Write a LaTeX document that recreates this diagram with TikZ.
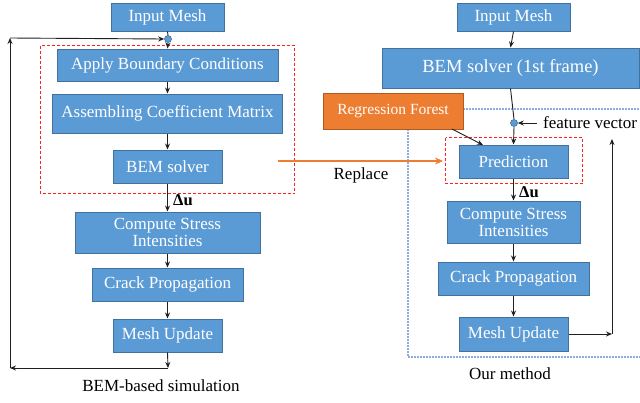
\documentclass[tikz,border=0pt]{standalone}
\usepackage{fontspec}
\setmainfont{Liberation Serif}
\usetikzlibrary{arrows.meta}
\definecolor{boxblue}{HTML}{5B9BD5}
\definecolor{boxedge}{HTML}{41719C}
\definecolor{rforange}{HTML}{ED7D31}
\definecolor{rfedge}{HTML}{AE5A21}
\definecolor{dotblue}{HTML}{8FAADC}
\definecolor{lineblk}{HTML}{202020}
\definecolor{dashred}{HTML}{FF2020}
\tikzset{
  box/.style={draw=boxedge, line width=1pt, fill=boxblue, text=white, inner sep=0pt,
    align=center, font=\fontsize{17}{18}\selectfont},
  obox/.style={draw=rfedge, line width=1pt, fill=rforange, text=white, inner sep=0pt,
    align=center, font=\fontsize{15.5}{17}\selectfont},
  conn/.style={draw=lineblk, line width=0.9pt, -{Stealth[length=6pt,width=5pt]}},
  plain/.style={draw=lineblk, line width=0.9pt},
  bdot/.style={circle, fill=boxblue, draw=boxedge, line width=0.6pt, minimum size=7pt, inner sep=0pt},
  redbox/.style={draw=dashred, line width=1pt, dash pattern=on 3pt off 2pt},
  bluebox/.style={draw=dotblue, line width=1.5pt, dash pattern=on 1.5pt off 1.5pt},
  lbl/.style={text=black, inner sep=0pt, font=\fontsize{17}{18}\selectfont},
  dlbl/.style={text=black, inner sep=0pt, font=\bfseries\fontsize{16.5}{18}\selectfont},
}
\begin{document}
\begin{tikzpicture}[x=1pt,y=-1pt]
\useasboundingbox (0,0) rectangle (640,402);
\fill[white] (0,0) rectangle (640,402);
% ---------- left column ----------
\draw[redbox] (40.5,45.5) rectangle (294.5,193.5);
\node[box, minimum width=113pt, minimum height=28pt] (inL) at (167.5,17) {Input Mesh};
\node[bdot] (dotL) at (168,39) {};
\node[box, minimum width=221pt, minimum height=32pt] (abc) at (167.5,65) {Apply Boundary Conditions};
\node[box, minimum width=230pt, minimum height=39pt] (acm) at (167.5,113.5) {Assembling Coefficient Matrix};
\node[box, minimum width=109pt, minimum height=33pt] (bemL) at (167.5,166.5) {BEM solver};
\node[box, minimum width=185pt, minimum height=41pt] (csiL) at (167.5,232.5) {Compute Stress\\[-1pt]Intensities};
\node[box, minimum width=151pt, minimum height=33pt] (cpL) at (167.5,284.5) {Crack Propagation};
\node[box, minimum width=109pt, minimum height=33pt] (muL) at (167.5,335.5) {Mesh Update};
\coordinate (lb) at (168,368);
\coordinate (lc) at (10,368);
\coordinate (lt) at (10,38);
\draw[plain] (inL.south) -- (dotL.north);
\draw[conn] (dotL.south) -- (abc.north);
\draw[conn] (abc.south) -- (acm.north);
\draw[conn] (acm.south) -- (bemL.north);
\draw[conn] (bemL.south) -- (csiL.north);
\draw[conn] (csiL.south) -- (cpL.north);
\draw[conn] (cpL.south) -- (muL.north);
\draw[conn] (muL.south) -- (lb);
\draw[conn] (lb) -- (lc);
\draw[conn] (lc) -- (lt);
\draw[conn] (lt) -- (dotL.west);
\node[dlbl, anchor=west] (duL) at (173,200) {Δu};
\node[lbl] (capL) at (161,386) {BEM-based simulation};
% ---------- right column ----------
\draw[bluebox] (463,109) -- (640,109);
\draw[bluebox] (408,129) -- (408,357) -- (640,357);
\draw[redbox] (445.5,137.5) rectangle (582.5,183.5);
\node[box, minimum width=113pt, minimum height=28pt] (inR) at (513.5,17) {Input Mesh};
\node[box, minimum width=257pt, minimum height=40pt, font=\fontsize{18.5}{20}\selectfont] (bemR) at (510.5,68) {BEM solver (1st frame)};
\node[obox, minimum width=140pt, minimum height=36pt] (rf) at (393,111) {Regression Forest};
\node[bdot] (dotR) at (514,123) {};
\node[lbl, anchor=west] (fv) at (543,123) {feature vector};
\node[box, minimum width=109pt, minimum height=33pt] (pred) at (513.5,161.5) {Prediction};
\node[box, minimum width=133pt, minimum height=42pt] (csiR) at (513.5,222) {Compute Stress\\[-1pt]Intensities};
\node[box, minimum width=151pt, minimum height=33pt] (cpR) at (513.5,278.5) {Crack Propagation};
\node[box, minimum width=109pt, minimum height=34pt] (muR) at (513.5,334) {Mesh Update};
\coordinate (rfout) at (452,129);
\coordinate (predin) at (483,145);
\coordinate (rc) at (612,334);
\coordinate (rt) at (612,139);
\draw[conn] (inR.south) -- (bemR.north);
\draw[plain] (bemR.south) -- (dotR.north);
\draw[conn] ([xshift=-6pt]fv.west) -- (dotR.east);
\draw[conn] (dotR.south) -- (pred.north);
\draw[conn] (rfout) -- (predin);
\draw[conn] (pred.south) -- (csiR.north);
\draw[conn] (csiR.south) -- (cpR.north);
\draw[conn] (cpR.south) -- (muR.north);
\draw[conn] (muR.east) -- (rc);
\draw[conn] (rc) -- (rt);
\node[dlbl, anchor=west] (duR) at (519,192) {Δu};
\node[lbl] (capR) at (510,374) {Our method};
% ---------- replace ----------
\coordinate (repS) at (278,161);
\coordinate (repE) at (443,161);
\draw[draw=rforange, line width=2pt, -{Stealth[length=8pt,width=7pt]}] (repS) -- (repE);
\node[lbl] (rep) at (361,175) {Replace};
\end{tikzpicture}
\end{document}
